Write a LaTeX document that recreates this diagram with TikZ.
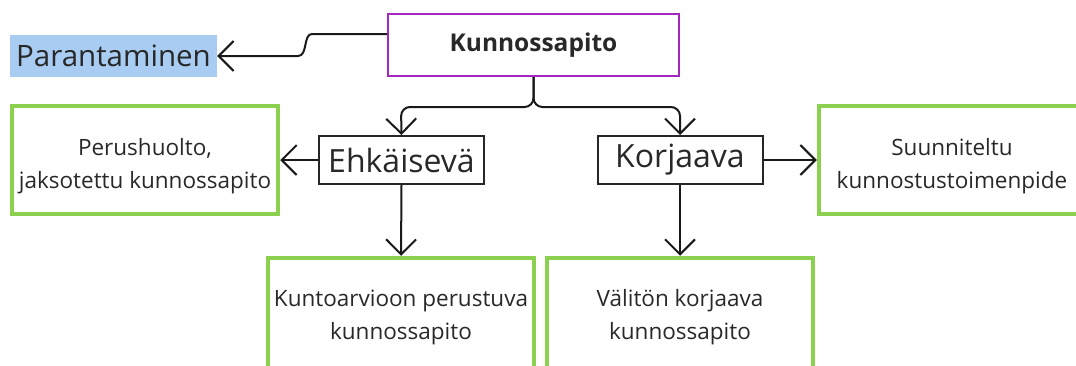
\documentclass[tikz,border=0pt]{standalone}
\usepackage{fontspec}
\setmainfont{Open Sans}
\usetikzlibrary{arrows.meta}
\definecolor{leaf}{RGB}{140,208,80}
\definecolor{plum}{RGB}{165,40,190}
\definecolor{sky}{RGB}{168,204,242}
\definecolor{ink}{RGB}{40,40,40}
\tikzset{
  conn/.style={line width=2pt, draw=black!90, -{Straight Barb[length=15pt,width=30pt,line width=2pt]}},
  greenbox/.style={draw=leaf, line width=4.5pt, minimum width=266pt, minimum height=108pt, inner sep=0pt},
  boxtext/.style={align=center, text=ink, font=\fontsize{22.5}{33}\selectfont, inner sep=0pt},
  kindbox/.style={draw=black!85, line width=2pt, minimum width=165pt, minimum height=48pt,
    text=ink, font=\fontsize{32}{36}\selectfont, inner sep=0pt},
}
\begin{document}
\begin{tikzpicture}[x=1pt,y=-1pt]
\useasboundingbox (0,0) rectangle (1076,365);

% top: main concept and the improvement label
\node[draw=plum, line width=2pt, minimum width=291pt, minimum height=62pt, inner sep=0pt,
  font=\fontsize{24.5}{28}\selectfont\bfseries, text=ink] (K) at (533.5,45) {Kunnossapito};
\node[fill=sky, minimum width=207pt, minimum height=42pt, inner sep=0pt,
  font=\fontsize{29.5}{32}\selectfont, text=ink] (P) at (113.5,56) {Parantaminen};

% the two kinds of maintenance
\node[kindbox] (E) at (401.5,160) {Ehkäisevä};
\node[kindbox] (R) at (680,160) {Korjaava};

% outcomes: frames and their texts
\node[greenbox] (E1) at (145,160) {};
\node[greenbox] (R1) at (952,160) {};
\node[greenbox, minimum height=116pt] (E2) at (401,316) {};
\node[greenbox, minimum height=116pt] (R2) at (680,316) {};
\node[boxtext] (E1t) at (145,166) {Perushuolto,\\jaksotettu kunnossapito};
\node[boxtext] (R1t) at (952,166) {Suunniteltu\\kunnostustoimenpide};
\node[boxtext] (E2t) at (401,317) {Kuntoarvioon perustuva\\kunnossapito};
\node[boxtext] (R2t) at (680,317) {Välitön korjaava\\kunnossapito};

% connectors
\draw[conn] ([yshift=11pt]K.west) -- (312,34) .. controls (303,34) and (308,56) .. (298,56) -- (P.east);
\draw[conn, rounded corners=9pt] (K.south) |- (401,107) -- (E.north);
\draw[conn, rounded corners=9pt] (K.south) |- (680,107) -- (R.north);
\draw[conn] (E.west) -- (E1.east);
\draw[conn] (R.east) -- (R1.west);
\draw[conn] (E.south) -- (E2.north);
\draw[conn] (R.south) -- (R2.north);
\end{tikzpicture}
\end{document}
